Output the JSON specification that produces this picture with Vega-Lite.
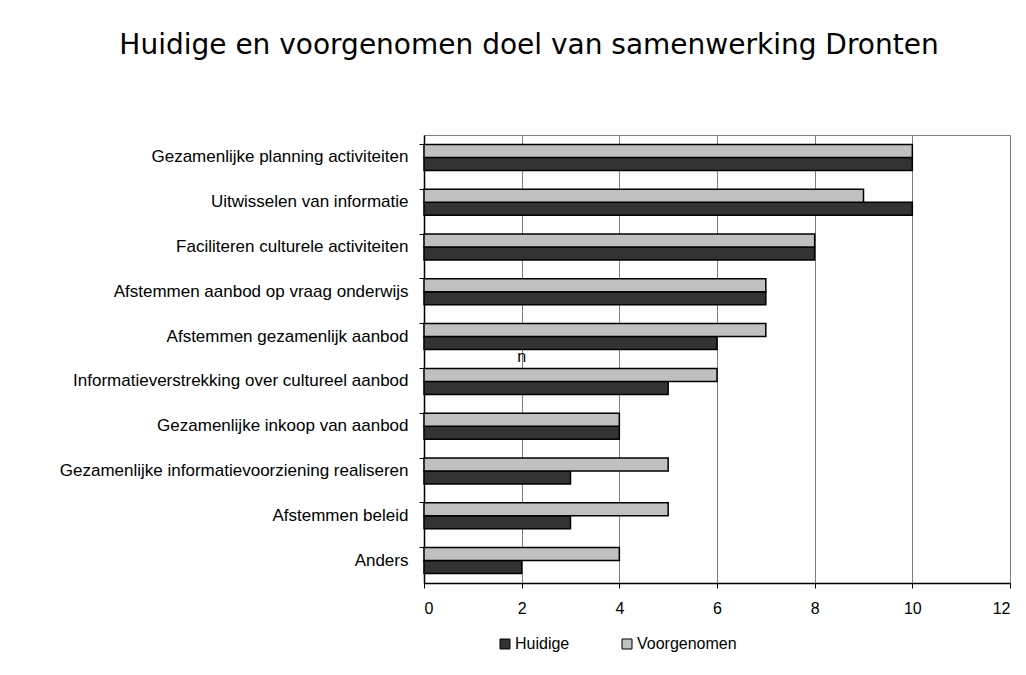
{
  "$schema": "https://vega.github.io/schema/vega-lite/v6.json",
  "autosize": {"type": "none"},
  "width": 586,
  "height": 448,
  "padding": {"left": 424, "top": 135, "right": 16, "bottom": 92},
  "background": "white",
  "title": {
    "text": "Huidige en voorgenomen doel van samenwerking Dronten",
    "anchor": "middle",
    "dx": -188,
    "offset": 75,
    "font": "DejaVu Sans",
    "fontSize": 28,
    "fontWeight": "normal",
    "color": "#000000"
  },
  "config": {
    "view": {"stroke": "#808080", "strokeWidth": 1},
    "font": "Liberation Sans"
  },
  "data": {
    "values": [
      {"doel": "Gezamenlijke planning activiteiten", "serie": "Huidige", "aantal": 10},
      {"doel": "Gezamenlijke planning activiteiten", "serie": "Voorgenomen", "aantal": 10},
      {"doel": "Uitwisselen van informatie", "serie": "Huidige", "aantal": 10},
      {"doel": "Uitwisselen van informatie", "serie": "Voorgenomen", "aantal": 9},
      {"doel": "Faciliteren culturele activiteiten", "serie": "Huidige", "aantal": 8},
      {"doel": "Faciliteren culturele activiteiten", "serie": "Voorgenomen", "aantal": 8},
      {"doel": "Afstemmen aanbod op vraag onderwijs", "serie": "Huidige", "aantal": 7},
      {"doel": "Afstemmen aanbod op vraag onderwijs", "serie": "Voorgenomen", "aantal": 7},
      {"doel": "Afstemmen gezamenlijk aanbod", "serie": "Huidige", "aantal": 6},
      {"doel": "Afstemmen gezamenlijk aanbod", "serie": "Voorgenomen", "aantal": 7},
      {"doel": "Informatieverstrekking over cultureel aanbod", "serie": "Huidige", "aantal": 5},
      {"doel": "Informatieverstrekking over cultureel aanbod", "serie": "Voorgenomen", "aantal": 6},
      {"doel": "Gezamenlijke inkoop van aanbod", "serie": "Huidige", "aantal": 4},
      {"doel": "Gezamenlijke inkoop van aanbod", "serie": "Voorgenomen", "aantal": 4},
      {"doel": "Gezamenlijke informatievoorziening realiseren", "serie": "Huidige", "aantal": 3},
      {"doel": "Gezamenlijke informatievoorziening realiseren", "serie": "Voorgenomen", "aantal": 5},
      {"doel": "Afstemmen beleid", "serie": "Huidige", "aantal": 3},
      {"doel": "Afstemmen beleid", "serie": "Voorgenomen", "aantal": 5},
      {"doel": "Anders", "serie": "Huidige", "aantal": 2},
      {"doel": "Anders", "serie": "Voorgenomen", "aantal": 4}
    ]
  },
  "layer": [
    {
      "mark": {"type": "bar", "stroke": "#000000", "strokeWidth": 1.5},
      "encoding": {
        "y": {
          "field": "doel",
          "type": "nominal",
          "sort": ["Gezamenlijke planning activiteiten", "Uitwisselen van informatie", "Faciliteren culturele activiteiten", "Afstemmen aanbod op vraag onderwijs", "Afstemmen gezamenlijk aanbod", "Informatieverstrekking over cultureel aanbod", "Gezamenlijke inkoop van aanbod", "Gezamenlijke informatievoorziening realiseren", "Afstemmen beleid", "Anders"],
          "scale": {"paddingInner": 0.42, "paddingOuter": 0.21},
          "axis": {
            "title": null,
            "bandPosition": 0,
            "labelFont": "Liberation Sans",
            "labelFontSize": 17,
            "labelColor": "#000000",
            "labelPadding": 11,
            "labelLimit": 420,
            "tickColor": "#000000",
            "tickSize": 5,
            "domainColor": "#000000",
            "domainWidth": 1.5,
            "grid": false
          }
        },
        "yOffset": {
          "field": "serie",
          "type": "nominal",
          "sort": ["Voorgenomen", "Huidige"],
          "scale": {"paddingInner": 0, "paddingOuter": 0}
        },
        "x": {
          "field": "aantal",
          "type": "quantitative",
          "scale": {"domain": [0, 12]},
          "axis": {
            "title": null,
            "values": [0, 2, 4, 6, 8, 10, 12],
            "labelFont": "Liberation Sans",
            "labelFontSize": 16,
            "labelColor": "#000000",
            "labelPadding": 12,
            "tickColor": "#000000",
            "tickSize": 5,
            "domainColor": "#000000",
            "domainWidth": 1.5,
            "grid": true,
            "gridColor": "#808080",
            "gridWidth": 1,
            "gridOpacity": 1
          }
        },
        "fill": {
          "field": "serie",
          "type": "nominal",
          "sort": ["Huidige", "Voorgenomen"],
          "scale": {"domain": ["Huidige", "Voorgenomen"], "range": ["#333333", "#c0c0c0"]},
          "legend": {
            "title": null,
            "orient": "none",
            "direction": "horizontal",
            "legendX": 73,
            "legendY": 501,
            "symbolType": "square",
            "symbolSize": 100,
            "symbolStrokeColor": "#000000",
            "symbolStrokeWidth": 1,
            "symbolOpacity": 1,
            "labelFont": "Liberation Sans",
            "labelFontSize": 16,
            "labelColor": "#000000",
            "columnPadding": 49,
            "labelOffset": 2
          }
        }
      }
    },
    {
      "data": {"values": [{"doel": "Informatieverstrekking over cultureel aanbod", "aantal": 2, "tekst": "n"}]},
      "mark": {"type": "text", "font": "Liberation Sans", "fontSize": 16, "color": "#000000", "baseline": "middle", "dy": -11},
      "encoding": {
        "y": {"field": "doel", "type": "nominal", "bandPosition": 0, "sort": ["Gezamenlijke planning activiteiten", "Uitwisselen van informatie", "Faciliteren culturele activiteiten", "Afstemmen aanbod op vraag onderwijs", "Afstemmen gezamenlijk aanbod", "Informatieverstrekking over cultureel aanbod", "Gezamenlijke inkoop van aanbod", "Gezamenlijke informatievoorziening realiseren", "Afstemmen beleid", "Anders"]},
        "x": {"field": "aantal", "type": "quantitative"},
        "text": {"field": "tekst"}
      }
    }
  ]
}
